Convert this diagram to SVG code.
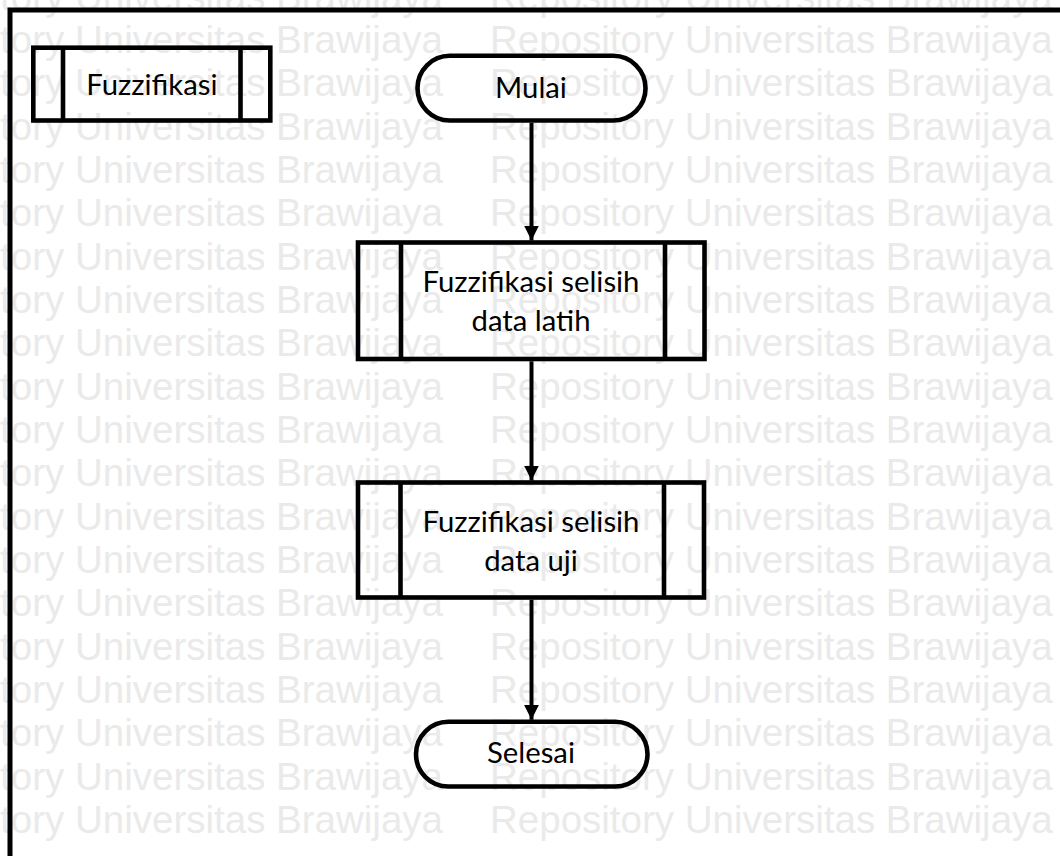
<svg xmlns="http://www.w3.org/2000/svg" xmlns:xlink="http://www.w3.org/1999/xlink" width="1060" height="856" viewBox="0 0 1060 856">
  <style>
    .wm { font-family: "Liberation Sans", Arial, sans-serif; font-size: 38.5px; fill: #eaeaea; }
    .shape { fill: none; stroke: #000; stroke-width: 4.6; }
    .frame { fill: none; stroke: #000; stroke-width: 5; }
    .edge { fill: none; stroke: #000; stroke-width: 4; }
    .label { font-family: "Lato", "Noto Sans", sans-serif; font-size: 29.3px; fill: #000; text-anchor: middle; }
  </style>
  <defs>
    <marker id="arrow" markerUnits="userSpaceOnUse" markerWidth="15" markerHeight="15" refX="15" refY="7.5" orient="auto">
      <path d="M0,0 L15,7.5 L0,15 Z" fill="#000"/>
    </marker>
    <g id="wmrow">
      <text class="wm" x="443" y="0" text-anchor="end">Repository Universitas Brawijaya</text>
      <text class="wm" x="490" y="0">Repository Universitas Brawijaya</text>
    </g>
  </defs>

  <rect x="0" y="0" width="1060" height="856" fill="#fff"/>

  <!-- background repository text -->
  <g id="watermark">
    <use xlink:href="#wmrow" y="9.7"/>
    <use xlink:href="#wmrow" y="53"/>
    <use xlink:href="#wmrow" y="96.4"/>
    <use xlink:href="#wmrow" y="139.7"/>
    <use xlink:href="#wmrow" y="183"/>
    <use xlink:href="#wmrow" y="226.4"/>
    <use xlink:href="#wmrow" y="269.7"/>
    <use xlink:href="#wmrow" y="313"/>
    <use xlink:href="#wmrow" y="356.4"/>
    <use xlink:href="#wmrow" y="399.7"/>
    <use xlink:href="#wmrow" y="443"/>
    <use xlink:href="#wmrow" y="486.4"/>
    <use xlink:href="#wmrow" y="529.7"/>
    <use xlink:href="#wmrow" y="573"/>
    <use xlink:href="#wmrow" y="616.4"/>
    <use xlink:href="#wmrow" y="659.7"/>
    <use xlink:href="#wmrow" y="703"/>
    <use xlink:href="#wmrow" y="746.4"/>
    <use xlink:href="#wmrow" y="789.7"/>
    <use xlink:href="#wmrow" y="833"/>
  </g>

  <!-- page frame (top and left edges) -->
  <path class="frame" d="M10,860 V10 H1064"/>

  <!-- legend: predefined process symbol -->
  <g id="legend">
    <rect class="shape" x="33.3" y="47.7" width="237" height="72.8"/>
    <line class="shape" x1="63" y1="47.7" x2="63" y2="120.5"/>
    <line class="shape" x1="240.5" y1="47.7" x2="240.5" y2="120.5"/>
    <text class="label" x="151.8" y="95">Fuzzifikasi</text>
  </g>

  <g id="start">
    <rect class="shape" x="417.5" y="55.8" width="228" height="64.7" rx="32.3" ry="32.3"/>
    <text class="label" x="531" y="97.7">Mulai</text>
  </g>

  <g id="fuzz-train">
    <rect class="shape" x="358" y="242.5" width="346.5" height="116.5"/>
    <line class="shape" x1="401" y1="242.5" x2="401" y2="359"/>
    <line class="shape" x1="665" y1="242.5" x2="665" y2="359"/>
    <text class="label" x="531" y="291.7">Fuzzifikasi selisih</text>
    <text class="label" x="531" y="331">data latih</text>
  </g>

  <g id="fuzz-test">
    <rect class="shape" x="358" y="482.5" width="346" height="115"/>
    <line class="shape" x1="400.5" y1="482.5" x2="400.5" y2="597.5"/>
    <line class="shape" x1="664" y1="482.5" x2="664" y2="597.5"/>
    <text class="label" x="531" y="531.7">Fuzzifikasi selisih</text>
    <text class="label" x="531" y="571">data uji</text>
  </g>

  <g id="end">
    <rect class="shape" x="416" y="721.8" width="231.5" height="64.7" rx="32.3" ry="32.3"/>
    <text class="label" x="531" y="762.7">Selesai</text>
  </g>

  <g id="connectors">
    <path class="edge" d="M531.5,122.8 V240.5" marker-end="url(#arrow)"/>
    <path class="edge" d="M531.5,361.3 V480.5" marker-end="url(#arrow)"/>
    <path class="edge" d="M531.5,599.8 V719.8" marker-end="url(#arrow)"/>
  </g>
</svg>
